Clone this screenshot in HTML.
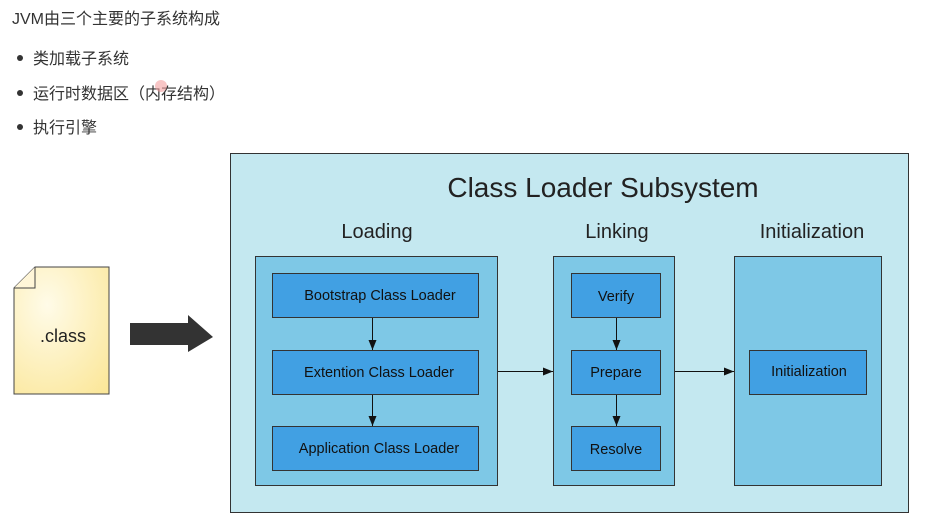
<!DOCTYPE html>
<html><head><meta charset="utf-8"><style>
body{margin:0;background:#fff;width:942px;height:519px;overflow:hidden;font-family:"Liberation Sans","Noto Sans CJK SC",sans-serif;}
</style></head><body>
<svg width="942" height="519" xmlns="http://www.w3.org/2000/svg" style="position:absolute;left:0;top:0">
<defs>
<radialGradient id="fg" cx="0.35" cy="0.3" r="0.9"><stop offset="0" stop-color="#fffbe8"/><stop offset="1" stop-color="#fbe79a"/></radialGradient>
<marker id="ah" markerWidth="10" markerHeight="8" refX="10" refY="4" orient="auto" markerUnits="userSpaceOnUse"><path d="M0,0 L10,4 L0,8 z" fill="#111"/></marker>
</defs>
<g font-family="Liberation Sans, Noto Sans CJK SC, sans-serif" fill="#333">
<text x="12" y="24" font-size="16">JVM由三个主要的子系统构成</text>
<circle cx="20" cy="58" r="3" fill="#333"/><text x="33" y="64" font-size="16">类加载子系统</text>
<circle cx="20" cy="93" r="3" fill="#333"/><text x="33" y="99" font-size="16">运行时数据区（内存结构）</text>
<circle cx="20" cy="127" r="3" fill="#333"/><text x="33" y="133" font-size="16">执行引擎</text>
</g>
<circle cx="161" cy="86" r="6" fill="#f4a0a0" opacity="0.6"/>
<path d="M35,267 L109,267 L109,394 L14,394 L14,288 Z" fill="url(#fg)" stroke="#444" stroke-width="1"/>
<path d="M14,288 L35,288 L35,267" fill="#fff6d8" stroke="#444" stroke-width="1"/>
<text x="63" y="342" font-size="18" text-anchor="middle" fill="#222" font-family="Liberation Sans, sans-serif">.class</text>
<path d="M130,323 L188,323 L188,315 L213,337 L188,352 L188,345 L130,345 Z" fill="#333"/>
<rect x="230.5" y="153.5" width="678" height="359" fill="#c4e8f0" stroke="#333"/>
<g font-family="Liberation Sans, sans-serif" fill="#222">
<text x="603" y="197" font-size="28" text-anchor="middle">Class Loader Subsystem</text>
<text x="377" y="238" font-size="20" text-anchor="middle">Loading</text>
<text x="617" y="238" font-size="20" text-anchor="middle">Linking</text>
<text x="812" y="238" font-size="20" text-anchor="middle">Initialization</text>
</g>
<g stroke="#333" stroke-width="1">
<rect x="255.5" y="256.5" width="242" height="229" fill="#7ec8e6"/>
<rect x="553.5" y="256.5" width="121" height="229" fill="#7ec8e6"/>
<rect x="734.5" y="256.5" width="147" height="229" fill="#7ec8e6"/>
<g fill="#41a0e3">
<rect x="272.5" y="273.5" width="206" height="44"/>
<rect x="272.5" y="350.5" width="206" height="44"/>
<rect x="272.5" y="426.5" width="206" height="44"/>
<rect x="571.5" y="273.5" width="89" height="44"/>
<rect x="571.5" y="350.5" width="89" height="44"/>
<rect x="571.5" y="426.5" width="89" height="44"/>
<rect x="749.5" y="350.5" width="117" height="44"/>
</g>
<g stroke="#111" marker-end="url(#ah)">
<line x1="372.5" y1="318" x2="372.5" y2="350"/>
<line x1="372.5" y1="395" x2="372.5" y2="426"/>
<line x1="616.5" y1="318" x2="616.5" y2="350"/>
<line x1="616.5" y1="395" x2="616.5" y2="426"/>
<line x1="498" y1="371.5" x2="553" y2="371.5"/>
<line x1="675" y1="371.5" x2="734" y2="371.5"/>
</g>
</g>
<g font-family="Liberation Sans, sans-serif" fill="#111" font-size="14.5" text-anchor="middle">
<text x="380" y="300">Bootstrap Class Loader</text>
<text x="379" y="377">Extention Class Loader</text>
<text x="379" y="453">Application Class Loader</text>
<text x="616" y="301">Verify</text>
<text x="616" y="377">Prepare</text>
<text x="616" y="454">Resolve</text>
<text x="809" y="376">Initialization</text>
</g>
</svg>
</body></html>
